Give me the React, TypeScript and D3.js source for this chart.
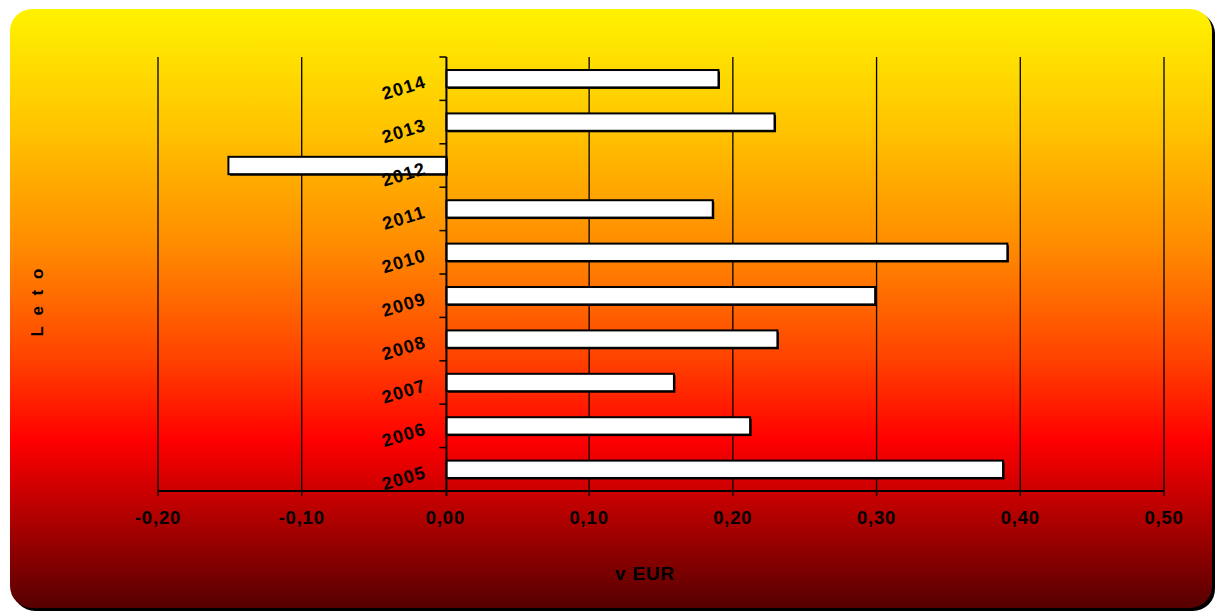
import React from "react";
import * as d3 from "d3";

const years = ["2005", "2006", "2007", "2008", "2009", "2010", "2011", "2012", "2013", "2014"];
const values = [0.388, 0.212, 0.159, 0.231, 0.299, 0.391, 0.186, -0.151, 0.229, 0.19];
const xTicks = [-0.2, -0.1, 0, 0.1, 0.2, 0.3, 0.4, 0.5];
const xTitle = "v EUR";
const yTitle = "L e t o";

const W = 1216;
const H = 612;
const plot = { left: 158, right: 1164, top: 57, bottom: 491 };

export default function App() {
  const x = d3.scaleLinear().domain([-0.2, 0.5]).range([plot.left, plot.right]);
  const y = d3
    .scaleBand<string>()
    .domain([...years].reverse())
    .range([plot.top, plot.bottom])
    .paddingInner(0.6)
    .paddingOuter(0.3);
  const fmt = (v: number) => v.toFixed(2).replace(".", ",");
  const x0 = x(0) + 1;
  const font = "'Liberation Sans', Arial, sans-serif";
  const boundaries = d3.range(years.length + 1).map((i) => plot.top + i * ((plot.bottom - plot.top) / years.length));

  return (
    <div style={{ position: "absolute", left: 0, top: 0 }}>
      <svg width={W} height={H} style={{ display: "block" }}>
        <defs>
          <linearGradient id="bg" x1="0" y1="0" x2="0" y2="1">
            <stop offset="0" stopColor="#FFF200" />
            <stop offset="0.2" stopColor="#FFC400" />
            <stop offset="0.4" stopColor="#FF8A00" />
            <stop offset="0.58" stopColor="#FF4400" />
            <stop offset="0.72" stopColor="#FF0000" />
            <stop offset="1" stopColor="#560000" />
          </linearGradient>
        </defs>
        <rect x={13} y={12} width={1202} height={599} rx={22} ry={22} fill="#000" />
        <rect x={10} y={9} width={1202} height={599} rx={22} ry={22} fill="url(#bg)" />

        {/* gridlines */}
        {xTicks.filter((t) => t !== 0).map((t) => (
          <line key={"g" + t} x1={x(t)} x2={x(t)} y1={plot.top} y2={plot.bottom + 5} stroke="#000" strokeWidth={1.3} />
        ))}

        {/* bars */}
        {years.map((yr, i) => {
          const v = values[i];
          const bx = Math.min(x(v), x0);
          const bw = Math.abs(x(v) - x0);
          const by = y(yr)!;
          const bh = y.bandwidth();
          return (
            <g key={yr}>
              <rect x={bx + 1.5} y={by + 1.5} width={bw} height={bh} fill="#000" />
              <rect x={bx} y={by} width={bw} height={bh} fill="#fff" stroke="#000" strokeWidth={2} />
            </g>
          );
        })}

        {/* x axis */}
        <line x1={plot.left} x2={plot.right} y1={plot.bottom} y2={plot.bottom} stroke="#000" strokeWidth={2} />
        {xTicks.map((t) => (
          <text
            key={"t" + t}
            x={x(t)}
            y={524}
            textAnchor="middle"
            fontFamily={font}
            fontWeight="bold"
            fontSize={18.5}
            letterSpacing={0.8}
            fill="#000"
          >
            {fmt(t)}
          </text>
        ))}

        {/* y axis */}
        <line x1={x0} x2={x0} y1={plot.top} y2={plot.bottom + 5} stroke="#000" strokeWidth={2} />
        {boundaries.map((b, i) => (
          <line key={"yt" + i} x1={x0 - 7} x2={x0} y1={b} y2={b} stroke="#000" strokeWidth={1.5} />
        ))}
        {years.map((yr) => {
          const cy = y(yr)! + y.bandwidth() / 2 + 9;
          const cx = 404;
          return (
            <text
              key={"yl" + yr}
              x={cx}
              y={cy}
              textAnchor="middle"
              dominantBaseline="central"
              transform={`rotate(-17 ${cx} ${cy})`}
              fontFamily={font}
              fontWeight="bold"
              fontSize={18}
              letterSpacing={1.2}
              fill="#000"
            >
              {yr}
            </text>
          );
        })}

        {/* titles */}
        <text x={645} y={580} textAnchor="middle" fontFamily={font} fontWeight="bold" fontSize={19} letterSpacing={0.8} fill="#000">
          {xTitle}
        </text>
        <text
          x={0}
          y={0}
          transform={`translate(43 ${301}) rotate(-90)`}
          textAnchor="middle"
          fontFamily={font}
          fontWeight="bold"
          fontSize={17}
          letterSpacing={3}
          fill="#000"
        >
          {yTitle}
        </text>
      </svg>
    </div>
  );
}
